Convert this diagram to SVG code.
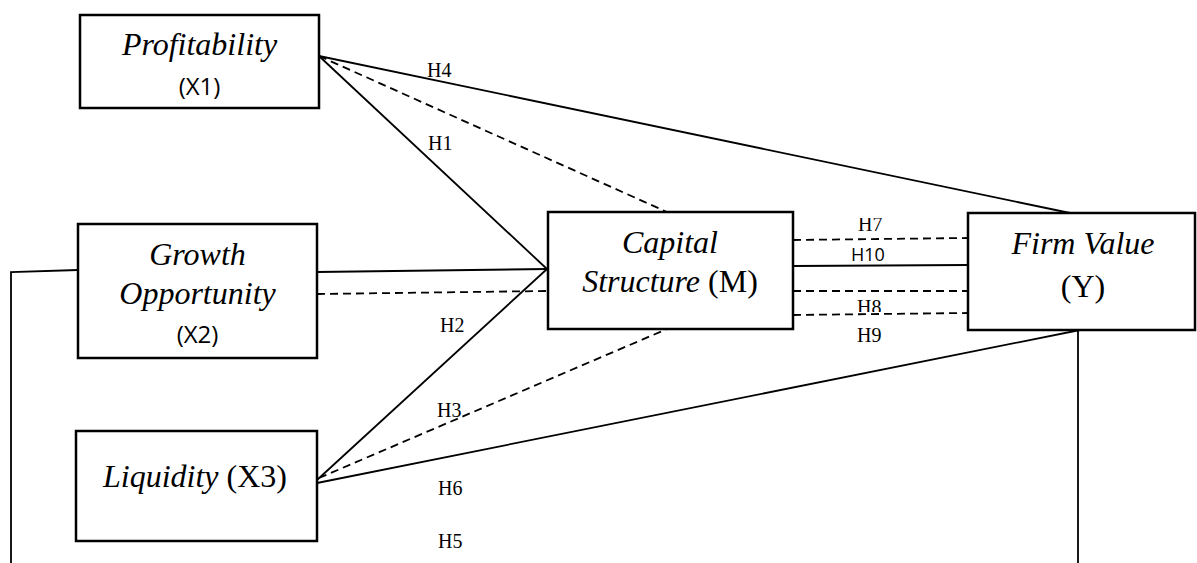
<svg xmlns="http://www.w3.org/2000/svg" width="1197" height="563" viewBox="0 0 1197 563">
<style>
.box{fill:#fff;stroke:#000;stroke-width:2.5}
.ln{fill:none;stroke:#000;stroke-width:1.8}
.ds{fill:none;stroke:#000;stroke-width:1.8;stroke-dasharray:8 5}
.t{font-family:"Liberation Serif","Times New Roman",serif;font-size:32px;fill:#000}
.i{font-style:italic}
.s{font-family:"Open Sans","Liberation Sans",sans-serif;font-size:24px;fill:#000}
.h{font-family:"Liberation Serif","Times New Roman",serif;font-size:20px;fill:#000}
.hs{font-family:"Open Sans","Liberation Sans",sans-serif;font-size:18px;fill:#000}
</style>
<defs>
<clipPath id="c7" clipPathUnits="userSpaceOnUse"><rect x="850" y="218" width="40" height="20"/></clipPath>
<clipPath id="c8" clipPathUnits="userSpaceOnUse"><rect x="850" y="300" width="40" height="12"/></clipPath>
</defs>
<rect width="1197" height="563" fill="#fff"/>
<g id="connectors">
<line class="ln" x1="319" y1="56" x2="1070" y2="213"/>
<line class="ln" x1="319" y1="56" x2="547" y2="269"/>
<line class="ds" x1="319" y1="56" x2="667" y2="212"/>
<line class="ln" x1="317" y1="272" x2="547" y2="269"/>
<line class="ds" x1="317" y1="294" x2="547" y2="291"/>
<line class="ln" x1="317" y1="480" x2="547" y2="269"/>
<line class="ds" x1="319" y1="478" x2="667" y2="329"/>
<line class="ln" x1="317" y1="483" x2="1080" y2="330"/>
<line class="ln" x1="1078" y1="330" x2="1078" y2="563"/>
<polyline class="ln" points="11,563 11,272 78,270"/>
<line class="ds" x1="793" y1="240" x2="968" y2="238"/>
<line class="ln" x1="793" y1="266" x2="968" y2="265"/>
<line class="ds" x1="793" y1="291" x2="968" y2="291"/>
<line class="ds" x1="793" y1="315" x2="968" y2="313"/>
<text class="h" x="427" y="77">H4</text>
<text class="h" x="428" y="150">H1</text>
<text class="h" x="440" y="332">H2</text>
<text class="h" x="437" y="417">H3</text>
<text class="h" x="438" y="495">H6</text>
<text class="h" x="438" y="548">H5</text>
<text class="h" x="858" y="231" clip-path="url(#c7)">H7</text>
<text class="hs" x="851" y="261">H10</text>
<text class="h" x="857" y="314" clip-path="url(#c8)">H8</text>
<text class="h" x="857" y="342">H9</text>
</g>
<g id="profitability">
<rect class="box" x="80" y="15" width="239" height="93"/>
<text class="t i" x="199.5" y="55" text-anchor="middle">Profitability</text>
<text class="s" x="199.5" y="95" text-anchor="middle">(X1)</text>
</g>
<g id="growth">
<rect class="box" x="78" y="224" width="239" height="134"/>
<text class="t i" x="197.5" y="265" text-anchor="middle">Growth</text>
<text class="t i" x="197.5" y="304" text-anchor="middle">Opportunity</text>
<text class="s" x="197.5" y="343" text-anchor="middle">(X2)</text>
</g>
<g id="liquidity">
<rect class="box" x="76" y="431" width="241" height="110"/>
<text class="t" x="195" y="487" text-anchor="middle"><tspan class="i">Liquidity</tspan> (X3)</text>
</g>
<g id="capital">
<rect class="box" x="548" y="212" width="245" height="117"/>
<text class="t i" x="670" y="253" text-anchor="middle">Capital</text>
<text class="t" x="670" y="292" text-anchor="middle"><tspan class="i">Structure</tspan> (M)</text>
</g>
<g id="firmvalue">
<rect class="box" x="968" y="213" width="227" height="117"/>
<text class="t i" x="1083" y="254" text-anchor="middle">Firm Value</text>
<text class="t" x="1083" y="297" text-anchor="middle">(Y)</text>
</g>
</svg>
